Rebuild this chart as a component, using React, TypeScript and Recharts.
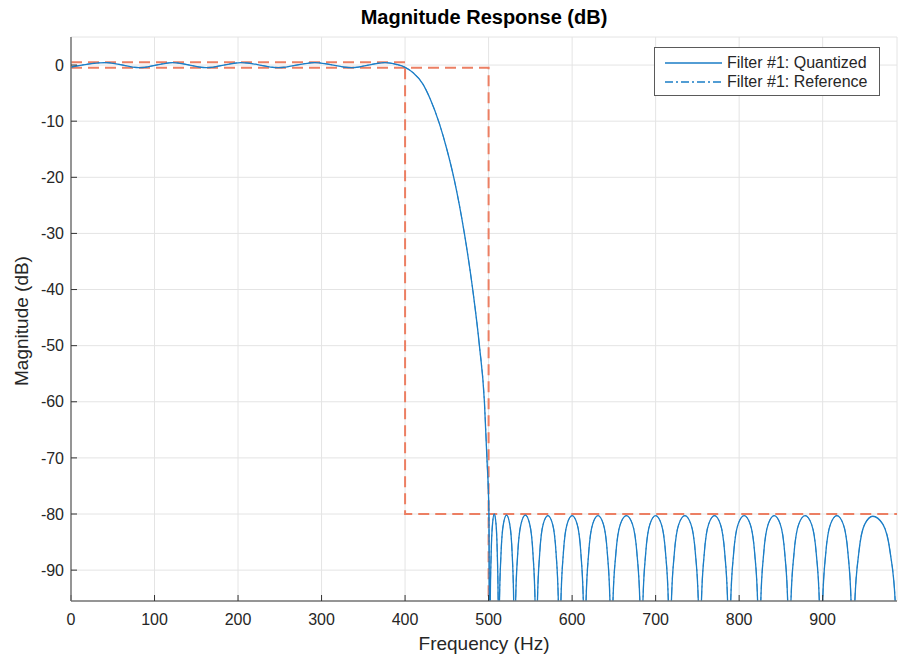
import { LineChart, Line, XAxis, YAxis, CartesianGrid } from 'recharts';

const xTicks = [0, 100, 200, 300, 400, 500, 600, 700, 800, 900];
const yTicks = [-90, -80, -70, -60, -50, -40, -30, -20, -10, 0];
const xMax = 989;

// [frequency Hz, magnitude dB]
const passband: [number, number][] = [
  [0, -0.35], [42, 0.45], [82, -0.45], [122, 0.45], [162, -0.45], [204, 0.45],
  [248, -0.45], [292, 0.45], [336, -0.45], [376, 0.45], [390, 0.1],
];

const transition: [number, number][] = [
  [400, -0.4], [410, -1.4], [421, -3.3], [430, -6], [441, -10.4], [450, -15],
  [459, -20.5], [471, -30], [481, -40], [489, -50], [495, -60], [498, -70],
  [500.4, -80],
];

const stopband: [number, number][] = [
  [501.5, -120], [502.0, -96], [503.1, -87], [504.7, -81.8], [506.75, -80.0], [508.9, -81.8], [510.4, -87], [511.5, -96],
  [512, -120], [513.0, -96], [514.9, -87], [517.7, -81.8], [521.5, -80.2], [525.3, -81.8], [528.2, -87], [530.1, -96],
  [531, -120], [532.3, -96], [534.9, -87], [538.8, -81.8], [544, -80.2], [549.2, -81.8], [553.1, -87], [555.7, -96],
  [557, -120], [558.4, -96], [561.2, -87], [565.4, -81.8], [571, -80.3], [576.6, -81.8], [580.8, -87], [583.6, -96],
  [585, -120], [586.5, -96], [589.5, -87], [594, -81.8], [600, -80.3], [606, -81.8], [610.5, -87], [613.5, -96],
  [615, -120], [616.6, -96], [619.8, -87], [624.6, -81.8], [631, -80.3], [637.4, -81.8], [642.2, -87], [645.4, -96],
  [647, -120], [648.8, -96], [652.4, -87], [657.8, -81.8], [665, -80.3], [672.2, -81.8], [677.6, -87], [681.2, -96],
  [683, -120], [684.7, -96], [688.1, -87], [693.2, -81.8], [700, -80.3], [706.8, -81.8], [711.9, -87], [715.3, -96],
  [717, -120], [718.8, -96], [722.4, -87], [727.8, -81.8], [735, -80.3], [742.2, -81.8], [747.6, -87], [751.2, -96],
  [753, -120], [754.75, -96], [758.25, -87], [763.5, -81.8], [770.5, -80.3], [777.5, -81.8], [782.75, -87], [786.25, -96],
  [788, -120], [789.8, -96], [793.4, -87], [798.8, -81.8], [806, -80.3], [813.2, -81.8], [818.6, -87], [822.2, -96],
  [824, -120], [825.8, -96], [829.4, -87], [834.8, -81.8], [842, -80.3], [849.2, -81.8], [854.6, -87], [858.2, -96],
  [860, -120], [861.9, -96], [865.7, -87], [871.4, -81.8], [879, -80.3], [886.6, -81.8], [892.3, -87], [896.1, -96],
  [898, -120], [899.9, -96], [903.7, -87], [909.4, -81.8], [917, -80.3], [924.6, -81.8], [930.3, -87], [934.1, -96],
  [936, -120], [938.4, -96], [943.2, -87], [950.4, -81.8], [960, -80.4], [972, -81.8], [981, -87], [987, -96],
  [990, -120],
];

const upperMask: [number, number][] = [[0, 0.5], [400, 0.5], [400, -80], [xMax, -80]];
const lowerMask: [number, number][] = [[0, -0.5], [500, -0.5], [500, -120]];

const toRows = (pts: [number, number][]) => pts.map(([f, db]) => ({ f, db }));
const response = toRows([...passband, ...transition, ...stopband]);

const BLUE = '#1A7DC6';
const MASK = '#EC7F63';
const FONT = '"Liberation Sans", Arial, Helvetica, sans-serif';
const TEXT = '#262626';
const FRAME = '#767676';

const legendItems = [
  { name: 'Filter #1: Quantized', dash: undefined },
  { name: 'Filter #1: Reference', dash: '8 3 2 3' },
];

function LegendBox() {
  return (
    <div
      style={{
        position: 'absolute', left: 654, top: 47, width: 224, height: 47,
        border: '1px solid #5a5a5a', background: '#fff',
        fontFamily: FONT, fontSize: 16, color: TEXT,
      }}
    >
      {legendItems.map((it, i) => (
        <div key={it.name} style={{ display: 'flex', alignItems: 'center', height: 19, marginTop: i === 0 ? 5 : 0 }}>
          <svg width={68} height={6} style={{ marginLeft: 10 }}>
            <line x1={0} y1={3} x2={57} y2={3} stroke={BLUE} strokeWidth={1.3} strokeDasharray={it.dash} />
          </svg>
          <span style={{ whiteSpace: 'nowrap', marginLeft: -6 }}>{it.name}</span>
        </div>
      ))}
    </div>
  );
}

export default function App() {
  const tick = { fill: TEXT, fontSize: 16, fontFamily: FONT };
  return (
    <div style={{ position: 'absolute', left: 0, top: 0, width: 898, height: 658, overflow: 'hidden', background: '#fff' }}>
      <LineChart width={898} height={658} margin={{ top: 37, right: 1, bottom: 0, left: 0 }}>
        <CartesianGrid stroke="#e4e4e4" strokeWidth={1} />
        <XAxis
          type="number"
          dataKey="f"
          domain={[0, xMax]}
          ticks={xTicks}
          allowDataOverflow
          height={57}
          tick={tick}
          tickSize={-6}
          tickMargin={19}
          axisLine={{ stroke: FRAME, strokeWidth: 1.5 }}
          tickLine={{ stroke: '#333' }}
        />
        <XAxis
          xAxisId="top"
          orientation="top"
          type="number"
          domain={[0, xMax]}
          ticks={xTicks}
          height={0}
          tickFormatter={() => ''}
          tickSize={-6}
          axisLine={{ stroke: FRAME, strokeWidth: 1.5 }}
          tickLine={{ stroke: '#333' }}
        />
        <YAxis
          type="number"
          domain={[-95.5, 5]}
          ticks={yTicks}
          allowDataOverflow
          width={71}
          tick={tick}
          tickSize={-6}
          tickMargin={13}
          axisLine={{ stroke: FRAME, strokeWidth: 1.5 }}
          tickLine={{ stroke: '#333' }}
        />
        <YAxis
          yAxisId="right"
          orientation="right"
          type="number"
          domain={[-95.5, 5]}
          ticks={yTicks}
          width={0}
          tickFormatter={() => ''}
          tickSize={-6}
          axisLine={{ stroke: FRAME, strokeWidth: 1.5 }}
          tickLine={{ stroke: '#333' }}
        />
        <Line
          data={toRows(upperMask)}
          dataKey="db"
          type="linear"
          stroke={MASK}
          strokeWidth={2}
          strokeDasharray="11 6"
          dot={false}
          legendType="none"
          isAnimationActive={false}
        />
        <Line
          data={toRows(lowerMask)}
          dataKey="db"
          type="linear"
          stroke={MASK}
          strokeWidth={2}
          strokeDasharray="11 6"
          dot={false}
          legendType="none"
          isAnimationActive={false}
        />
        <Line
          name="Filter #1: Reference"
          data={response}
          dataKey="db"
          type="monotone"
          stroke={BLUE}
          strokeWidth={0.8}
          strokeDasharray="8 3 2 3"
          dot={false}
          isAnimationActive={false}
        />
        <Line
          name="Filter #1: Quantized"
          data={response}
          dataKey="db"
          type="monotone"
          stroke={BLUE}
          strokeWidth={1.3}
          dot={false}
          isAnimationActive={false}
        />
      </LineChart>
      <LegendBox />
      <div
        style={{
          position: 'absolute', left: 71, top: 5, width: 826, textAlign: 'center',
          fontFamily: FONT, fontWeight: 'bold', fontSize: 20, lineHeight: '24px', color: '#000',
        }}
      >
        Magnitude Response (dB)
      </div>
      <div
        style={{
          position: 'absolute', left: 71, top: 632, width: 826, textAlign: 'center',
          fontFamily: FONT, fontSize: 19, lineHeight: '24px', color: TEXT,
        }}
      >
        Frequency (Hz)
      </div>
      <div
        style={{
          position: 'absolute', left: -78, top: 309, width: 200, height: 24, textAlign: 'center',
          fontFamily: FONT, fontSize: 19, lineHeight: '24px', color: TEXT, transform: 'rotate(-90deg)',
        }}
      >
        Magnitude (dB)
      </div>
    </div>
  );
}
